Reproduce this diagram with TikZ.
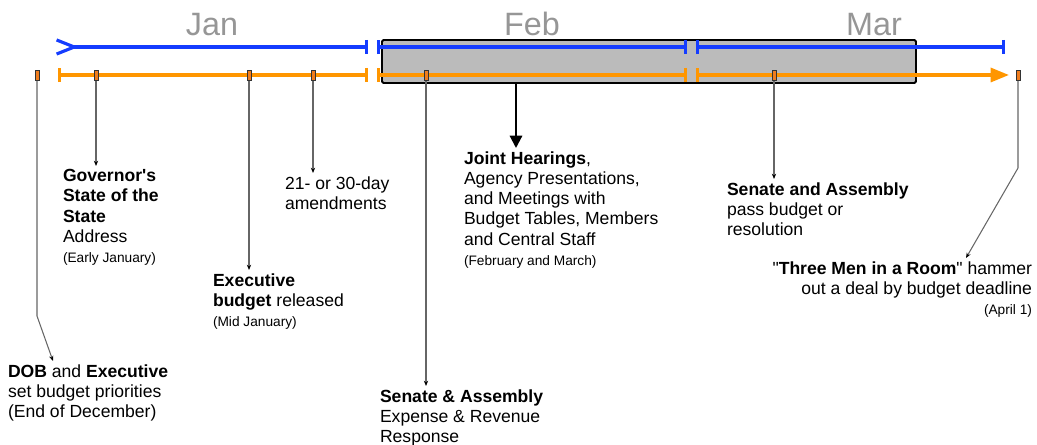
\documentclass[tikz,border=0pt]{standalone}
\usepackage{fontspec}
\setmainfont{Liberation Sans}
\usetikzlibrary{arrows.meta,positioning}

\definecolor{lineblue}{RGB}{20,60,255}
\definecolor{lineorange}{RGB}{255,150,0}
\definecolor{markorange}{RGB}{240,125,30}
\definecolor{boxgray}{RGB}{187,187,187}
\definecolor{monthgray}{RGB}{150,150,150}

\tikzset{
    month/.style={font=\fontsize{18.4}{20}\selectfont, text=monthgray, inner sep=0pt, anchor=base},
    blueline/.style={lineblue, line width=1.8pt},
    orangeline/.style={lineorange, line width=1.8pt},
    marker/.style={draw=black!80, fill=markorange, line width=0.4pt, minimum width=2.4pt, minimum height=5.6pt, inner sep=0pt},
    event/.style={font=\fontsize{10}{11.5}\selectfont, align=left, inner sep=0pt, outer sep=2pt, anchor=north west},
    conn/.style={black!60, line width=0.6pt, -{Stealth[length=3pt, width=2.4pt, black]}},
}
\newcommand{\when}[1]{{\fontsize{7.8}{11.5}\selectfont #1}}

\begin{document}
\begin{tikzpicture}[x=0.02cm, y=-0.02cm]
    \useasboundingbox (0,0) rectangle (1037,445);

    % months
    \node[month] (jan) at (212,36) {Jan};
    \node[month] (feb) at (532,36) {Feb};
    \node[month] (mar) at (874,36) {Mar};

    % hearings period
    \draw[line width=1.1pt, fill=boxgray, rounded corners=0.8pt] (382,40) rectangle (916,83);

    % timelines
    \draw[blueline, {Straight Barb[reversed, length=10pt, width=8pt]}-{Bar[width=8pt]}] (55,47) -- (368,47);
    \draw[blueline, {Bar[width=8pt]}-{Bar[width=8pt]}] (377,47) -- (687,47);
    \draw[blueline, {Bar[width=8pt]}-{Bar[width=8pt]}] (696,47) -- (1005,47);
    \draw[orangeline, {Bar[width=8pt]}-{Bar[width=8pt]}] (58,75) -- (368,75);
    \draw[orangeline, {Bar[width=8pt]}-{Bar[width=8pt]}] (377,75) -- (687,75);
    \draw[orangeline, {Bar[width=8pt]}-{Triangle[length=10.5pt, width=8pt]}] (696,75) -- (1009,75);

    % markers
    \node[marker] (m1) at (37,75.5) {};
    \node[marker] (m2) at (96,75.5) {};
    \node[marker] (m3) at (249,75.5) {};
    \node[marker] (m4) at (313,75.5) {};
    \node[marker] (m5) at (426,75.5) {};
    \node[marker] (m6) at (774,75.5) {};
    \node[marker] (m7) at (1018,75.5) {};

    % events
    \node[event] (gov) at (59.5,166) {\textbf{Governor\textquotesingle s}\\ \textbf{State of the}\\ \textbf{State}\\ Address\\ \when{(Early January)}};
    \node[event] (amend) at (281.5,173) {21- or 30-day\\ amendments};
    \node[event] (exec) at (209.5,270) {\textbf{Executive}\\ \textbf{budget} released\\ \when{(Mid January)}};
    \node[event] (dob) at (4.5,361) {\textbf{DOB} and \textbf{Executive}\\ set budget priorities\\ (End of December)};
    \node[event] (joint) at (460.5,148) {\textbf{Joint Hearings},\\ Agency Presentations,\\ and Meetings with\\ Budget Tables, Members\\ and Central Staff\\ \when{(February and March)}};
    \node[event] (senexp) at (376.5,386) {\textbf{Senate \& Assembly}\\ Expense \& Revenue\\ Response};
    \node[event] (senpass) at (723.5,179) {\textbf{Senate and Assembly}\\ pass budget or\\ resolution};
    \node[event, align=right, anchor=north east] (three) at (1035.5,258) {\textquotedbl\textbf{Three Men in a Room}\textquotedbl{} hammer\\ out a deal by budget deadline\\ \when{(April 1)}};

    % connectors
    \coordinate (dobbend) at (37,316);
    \coordinate (threebend) at (1018,168);
    \coordinate (hear) at (516,83);
    \draw[conn] (m1.south) -- (dobbend) -- ([xshift=0.97cm]dob.north west);
    \draw[conn] (m2.south) -- (m2.south |- gov.north);
    \draw[conn] (m3.south) -- (m3.south |- exec.north);
    \draw[conn] (m4.south) -- (m4.south |- amend.north);
    \draw[conn] (m5.south) -- (m5.south |- senexp.north);
    \draw[conn] (m6.south) -- (m6.south |- senpass.north);
    \draw[conn] (m7.south) -- (threebend) -- ([xshift=-1.39cm]three.north east);
    \draw[line width=1.2pt, -{Triangle[length=7pt, width=7pt]}] (hear) -- (hear |- joint.north);
\end{tikzpicture}
\end{document}
